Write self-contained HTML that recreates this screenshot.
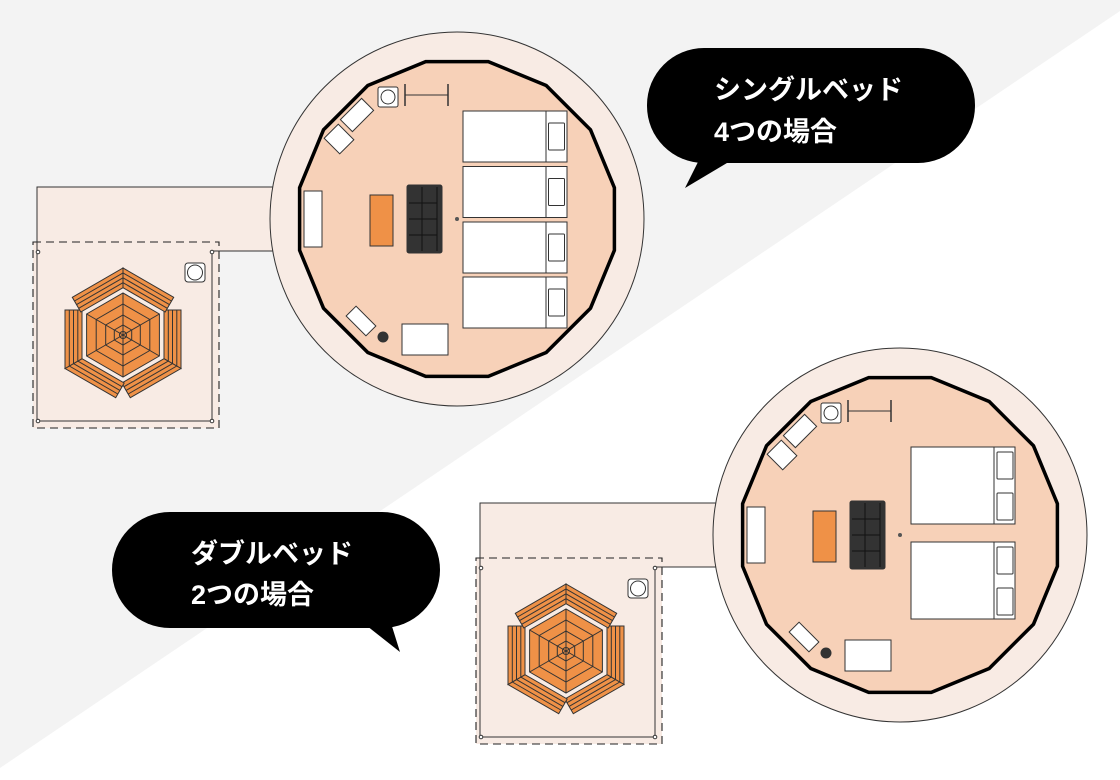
<!DOCTYPE html>
<html><head><meta charset="utf-8"><style>
html,body{margin:0;padding:0;width:1120px;height:780px;overflow:hidden;background:#fff}
svg{display:block}
.t{font-family:"Liberation Sans","Noto Sans CJK JP",sans-serif;font-weight:bold;font-size:27px;fill:#fff}
</style></head><body>
<svg id="s" width="1120" height="780" viewBox="0 0 1120 780" xmlns="http://www.w3.org/2000/svg">
<polygon points="0,0 1120,0 1120,11 0,768" fill="#f3f3f3"/>
<g id="g"></g>
<rect x="647" y="48" width="328" height="115" rx="57" fill="#000"/>
<polygon points="700,158 685,188 732,160" fill="#000"/>
<text class="t" x="714" y="99">シングルベッド</text>
<text class="t" x="714" y="141">4つの場合</text>
<rect x="112" y="512" width="328" height="116" rx="58" fill="#000"/>
<polygon points="362,622 400,652 390,620" fill="#000"/>
<text class="t" x="191" y="563">ダブルベッド</text>
<text class="t" x="191" y="604">2つの場合</text>
</svg>
<script>
var o='';
var S='stroke="#333" stroke-width="1"';
function r(x,y,w,h,f,extra){o+='<rect x="'+x+'" y="'+y+'" width="'+w+'" height="'+h+'" fill="'+f+'" '+S+' '+(extra||'')+'/>';}
function poly(pts,f,ex){o+='<polygon points="'+pts.map(p=>p[0].toFixed(1)+','+p[1].toFixed(1)).join(' ')+'" fill="'+f+'" '+(ex||S)+'/>';}
function ln(a,b,ex){o+='<line x1="'+a[0].toFixed(1)+'" y1="'+a[1].toFixed(1)+'" x2="'+b[0].toFixed(1)+'" y2="'+b[1].toFixed(1)+'" '+(ex||S)+'/>';}
function rot(cx,cy,w,h,ang,f){o+='<rect x="'+(cx-w/2)+'" y="'+(cy-h/2)+'" width="'+w+'" height="'+h+'" fill="'+f+'" '+S+' transform="rotate('+ang+' '+cx+' '+cy+')"/>';}
function patio(dx,dy){
 o+='<rect x="'+(37+dx)+'" y="'+(187+dy)+'" width="260" height="64" fill="#f8ebe4"/>';
 o+='<rect x="'+(33+dx)+'" y="'+(242+dy)+'" width="186" height="186" fill="#f8ebe4" stroke="#222" stroke-width="1.1" stroke-dasharray="8,5"/>';
 o+='<polyline points="'+(290+dx)+','+(187+dy)+' '+(37+dx)+','+(187+dy)+' '+(37+dx)+','+(421+dy)+' '+(212+dx)+','+(421+dy)+' '+(212+dx)+','+(251+dy)+' '+(290+dx)+','+(251+dy)+'" fill="none" '+S+'/>';
 [[38,252],[212,252],[38,421],[212,421]].forEach(p=>{o+='<circle cx="'+(p[0]+dx)+'" cy="'+(p[1]+dy)+'" r="1.8" fill="#fff" '+S+'/>';});
 r(185+dx,263+dy,20,19,'#fff','rx="3"');
 o+='<circle cx="'+(195+dx)+'" cy="'+(272.5+dy)+'" r="7.5" fill="#fff" '+S+'/>';
 hex(123+dx,335+dy);
}
function hex(cx,cy){
 var fo='#ef9147';
 function P(th,a,t){var c=Math.cos(th),s=Math.sin(th);return [cx+a*c-t*s,cy+a*s+t*c];}
 var k=1/Math.sqrt(3);
 [0,60,120,180,240,300].forEach(function(d){
  var th=d*Math.PI/180, plus=(d%120==0);
  var a1=41,a2=58;
  function tq(a){return plus?[-25,a*k]:[25,-a*k];}
  var q=[P(th,a1,tq(a1)[0]),P(th,a2,tq(a2)[0]),P(th,a2,tq(a2)[1]),P(th,a1,tq(a1)[1])];
  poly(q,fo);
  [45.25,49.5,53.75].forEach(function(a){var tt=tq(a);ln(P(th,a,tt[0]),P(th,a,tt[1]));});
 });
 function V(R,i){var th=(30+60*i)*Math.PI/180;return [cx+R*Math.cos(th),cy+R*Math.sin(th)];}
 var vs=[];for(var i=0;i<6;i++)vs.push(V(42,i));
 poly(vs,fo);
 [31,20,10].forEach(function(R){var v=[];for(var i=0;i<6;i++)v.push(V(R,i));poly(v,'none');});
 for(var i=0;i<6;i++)ln([cx,cy],vs[i]);
 o+='<circle cx="'+cx+'" cy="'+cy+'" r="3.5" fill="none" '+S+'/>';
}
function plan(cx,cy,dbl){
 o+='<circle cx="'+cx+'" cy="'+cy+'" r="187" fill="#f8ebe4" '+S+'/>';
 var v=[],R=160.5;
 for(var i=0;i<16;i++){var th=(i*22.5+11.25)*Math.PI/180;v.push([cx+R*Math.cos(th),cy+R*Math.sin(th)]);}
 poly(v,'#f7d1b8','stroke="#000" stroke-width="3.5" stroke-linejoin="miter"');
 var dx=cx-457,dy=cy-219;
 r(378+dx,87+dy,20,20,'#fff','rx="2"');
 o+='<circle cx="'+(388+dx)+'" cy="'+(97+dy)+'" r="7" fill="#fff" '+S+'/>';
 ln([405+dx,95+dy],[448+dx,95+dy]);ln([405+dx,84+dy],[405+dx,106+dy],'stroke="#333" stroke-width="1.5"');ln([448+dx,84+dy],[448+dx,106+dy],'stroke="#333" stroke-width="1.5"');
 rot(357+dx,115+dy,30,17,-45,'#fff');
 rot(339+dx,139+dy,20,22,-45,'#fff');
 rot(361+dx,321+dy,28,14,45,'#fff');
 o+='<circle cx="'+(383+dx)+'" cy="'+(337+dy)+'" r="5.5" fill="#333"/>';
 r(402+dx,324+dy,46,31,'#fff');
 r(304+dx,191+dy,18,56,'#fff');
 r(370+dx,195+dy,23,51,'#ef9147');
 r(407+dx,185+dy,35,68,'#333','rx="2"');
 ln([437+dx,187+dy],[437+dx,251+dy],'stroke="#111" stroke-width="1"');
 ln([422+dx,187+dy],[422+dx,251+dy],'stroke="#111" stroke-width="1"');
 [203,219,235].forEach(y=>ln([409+dx,y+dy],[437+dx,y+dy],'stroke="#111" stroke-width="1"'));
 o+='<circle cx="'+cx+'" cy="'+cy+'" r="2" fill="#555"/>';
 if(!dbl){
  [111,166.5,222,277].forEach(function(y){
   r(463,y,104,51,'#fff');ln([546,y],[546,y+51]);r(548.5,y+12,16,27,'#fff','rx="1"');
  });
 }else{
  [447,542].forEach(function(y){
   r(911,y,104,77,'#fff');ln([994,y],[994,y+77]);
   r(997,y+5,16,27,'#fff','rx="1"');r(997,y+46,16,27,'#fff','rx="1"');
  });
 }
}
patio(0,0);plan(457,219,false);
patio(443,316);plan(900,535,true);
document.getElementById('g').innerHTML=o;
</script>
</body></html>
